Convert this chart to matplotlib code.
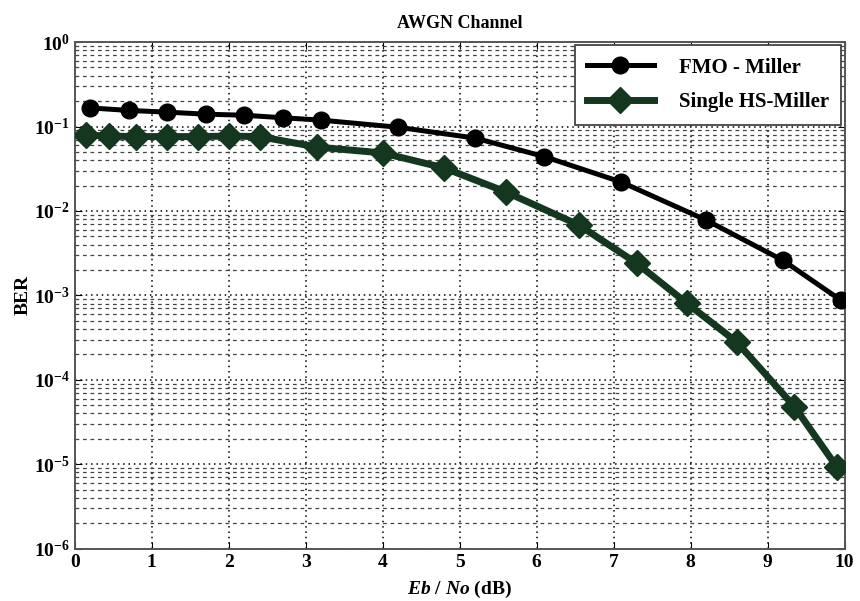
import matplotlib
matplotlib.use("Agg")
import matplotlib.pyplot as plt
import numpy as np

snr_fmo = [0.2, 0.7, 1.2, 1.7, 2.2, 2.7, 3.2, 4.2, 5.2, 6.1, 7.1, 8.2, 9.2, 9.95]
ber_fmo = [0.166, 0.155, 0.148, 0.140, 0.136, 0.127, 0.119, 0.098, 0.073,
           0.044, 0.022, 0.0078, 0.0026, 0.00088]

snr_hs = [0.15, 0.45, 0.8, 1.2, 1.6, 2.0, 2.4, 3.15, 4.0, 4.8, 5.6, 6.55,
          7.3, 7.95, 8.6, 9.35, 9.9]
ber_hs = [0.079, 0.077, 0.076, 0.076, 0.076, 0.077, 0.076, 0.057, 0.0486,
          0.0323, 0.0168, 0.0068, 0.0024, 0.00081, 0.00028, 4.8e-5, 9.3e-6]

x_ticks = list(range(0, 11))

plt.rcParams['font.family'] = ['Liberation Serif', 'DejaVu Serif']
plt.rcParams['font.weight'] = 'bold'
plt.rcParams['axes.labelweight'] = 'bold'
plt.rcParams['mathtext.fontset'] = 'custom'
plt.rcParams['mathtext.rm'] = 'Liberation Serif:bold'
plt.rcParams['mathtext.bf'] = 'Liberation Serif:bold'
plt.rcParams['mathtext.it'] = 'Liberation Serif:italic:bold'
plt.rcParams['mathtext.default'] = 'rm'

fig = plt.figure(figsize=(8.6, 6.01), dpi=100)
ax = fig.add_axes([0.087, 0.087, 0.895, 0.843])

green = '#13371f'
ax.plot(snr_fmo, ber_fmo, color='black', lw=3.6, marker='o', ms=11,
        mfc='black', mec='black', mew=2, label='FMO - Miller', zorder=4)
ax.plot(snr_hs, ber_hs, color=green, lw=5, marker='D', ms=13,
        mfc=green, mec=green, label='Single HS-Miller', zorder=3)

ax.set_yscale('log')
ax.set_xlim(0, 10)
ax.set_ylim(1e-6, 1)
ax.set_xticks(x_ticks)
ax.set_yticks([10.0**k for k in range(-6, 1)])

ax.grid(True, which='major', axis='both', color='black', ls=(0, (1, 2.5)), lw=1.1)
ax.grid(True, which='minor', axis='y', color='#444444', ls=(0, (3, 3)), lw=0.9)

ax.tick_params(which='both', direction='in', top=True, right=True, labelsize=14)
ax.tick_params(which='major', length=5)
ax.tick_params(which='minor', length=0)
for s in ax.spines.values():
    s.set_color('#555555')
    s.set_linewidth(1.4)

ax.set_title('AWGN Channel', fontsize=13, fontweight='bold', pad=10)
ax.set_xlabel(r'$\mathit{Eb}$ / $\mathit{No}$ (dB)', fontsize=14,
              fontweight='bold', labelpad=6)
ax.set_ylabel('BER', fontsize=14, fontweight='bold', labelpad=2)

leg = ax.legend(loc='upper right', fontsize=15, fancybox=False, framealpha=1,
                edgecolor='#444444', borderaxespad=0.15, handlelength=3.2,
                borderpad=0.6, labelspacing=0.7, handletextpad=1.2)
leg.get_frame().set_linewidth(1.3)

plt.savefig('out.png', dpi=100)
